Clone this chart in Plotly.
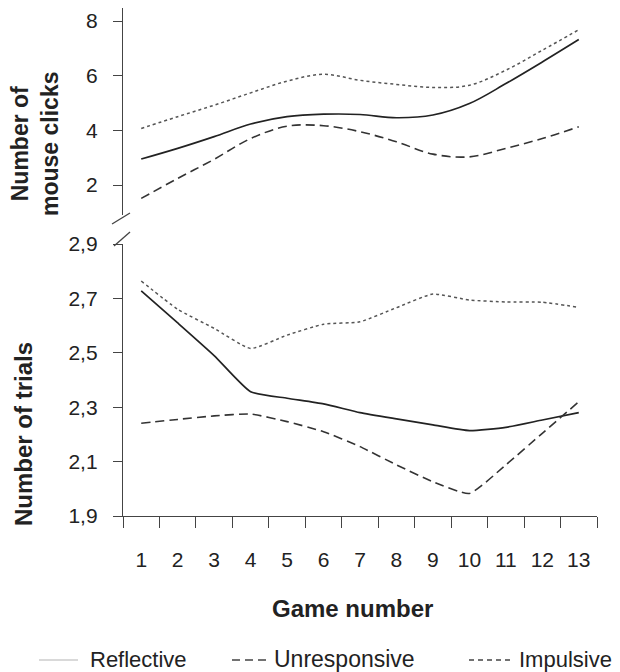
import plotly.graph_objects as go

games = [str(i) for i in range(1, 14)]

clicks_reflective = [2.95, 3.34, 3.77, 4.23, 4.50, 4.59, 4.58, 4.46, 4.56, 4.98, 5.71, 6.50, 7.32]
clicks_unresponsive = [1.51, 2.24, 2.94, 3.70, 4.15, 4.17, 3.95, 3.58, 3.13, 3.03, 3.34, 3.70, 4.13]
clicks_impulsive = [4.07, 4.50, 4.92, 5.37, 5.80, 6.05, 5.83, 5.68, 5.57, 5.65, 6.20, 6.93, 7.68]

trials_reflective = [2.728, 2.610, 2.490, 2.357, 2.333, 2.312, 2.280, 2.257, 2.235, 2.214, 2.226, 2.253, 2.280]
trials_unresponsive = [2.241, 2.255, 2.268, 2.275, 2.247, 2.210, 2.155, 2.088, 2.026, 1.983, 2.088, 2.204, 2.320]
trials_impulsive = [2.764, 2.660, 2.590, 2.516, 2.565, 2.605, 2.614, 2.666, 2.716, 2.694, 2.687, 2.686, 2.667]

clicks_ticks = [2, 4, 6, 8]
trials_ticks = [1.9, 2.1, 2.3, 2.5, 2.7, 2.9]
trials_ticktext = ["1,9", "2,1", "2,3", "2,5", "2,7", "2,9"]

# page body has an 8px margin: work in target-screen pixels, convert to figure pixels
OFF = 8
W, H = 620 - OFF, 672 - OFF
X0, X1 = 123, 597      # plot area left/right (screen px)
Y0, Y1 = 8, 516        # plot area top/bottom (screen px)
L, R = X0 - OFF, W - (X1 - OFF)
T, B = max(Y0 - OFF, 0), H - (Y1 - OFF)
PW, PH = X1 - X0, (Y1 - OFF) - T


def px(x):
    return (x - X0) / PW


def py(y):
    return (Y1 - y) / PH


FONT = "Liberation Sans, Arial, sans-serif"
styles = {
    "Reflective": dict(color="#222222", width=1.7, dash="solid"),
    "Unresponsive": dict(color="#333333", width=1.6, dash="9px,5px"),
    "Impulsive": dict(color="#555555", width=1.5, dash="3px,3px"),
}

fig = go.Figure()
for name, ys in [("Reflective", clicks_reflective), ("Unresponsive", clicks_unresponsive), ("Impulsive", clicks_impulsive)]:
    fig.add_trace(go.Scatter(x=games, y=ys, mode="lines", name=name, line=dict(shape="spline", smoothing=1.0, **styles[name]),
                             xaxis="x", yaxis="y2", showlegend=False))
for name, ys in [("Reflective", trials_reflective), ("Unresponsive", trials_unresponsive), ("Impulsive", trials_impulsive)]:
    fig.add_trace(go.Scatter(x=games, y=ys, mode="lines", name=name, line=dict(shape="spline", smoothing=0.5, **styles[name]),
                             xaxis="x", yaxis="y", showlegend=False))

axis_col = "#444444"
top_px_per_unit = (185 - 21) / 6.0
fig.update_layout(
    width=W, height=H,
    margin=dict(l=L, r=R, t=T, b=B, pad=0, autoexpand=False),
    paper_bgcolor="white", plot_bgcolor="white",
    font=dict(family=FONT, color="#222222"),
    xaxis=dict(type="category", tickson="boundaries", ticks="outside", ticklen=11, tickcolor=axis_col,
               showline=True, linecolor=axis_col, linewidth=1.3, showgrid=False, zeroline=False,
               tickfont=dict(size=21, color="#222222"), ticklabelstandoff=25, anchor="y",
               range=[-0.5, 12.5], automargin=False),
    yaxis=dict(domain=[0, py(244)], range=[1.9, 2.9], tickvals=trials_ticks, ticktext=trials_ticktext,
               ticks="outside", ticklen=9, tickcolor=axis_col, showline=True, linecolor=axis_col, linewidth=1.3,
               showgrid=False, zeroline=False, tickfont=dict(size=21, color="#222222"), ticklabelstandoff=11,
               automargin=False),
    yaxis2=dict(domain=[py(215), 1],
                range=[2 - (215 - 185) / top_px_per_unit, 8 + (21 - (T + OFF)) / top_px_per_unit],
                tickvals=clicks_ticks,
                ticks="outside", ticklen=9, tickcolor=axis_col, showline=True, linecolor=axis_col, linewidth=1.3,
                showgrid=False, zeroline=False, tickfont=dict(size=21, color="#222222"), ticklabelstandoff=11,
                anchor="x", automargin=False),
)

LEG_Y = 659
shapes = [
    dict(type="line", xref="paper", yref="paper", x0=px(112), y0=py(224), x1=px(130), y1=py(213),
         line=dict(color=axis_col, width=1.3)),
    dict(type="line", xref="paper", yref="paper", x0=px(114), y0=py(246), x1=px(130), y1=py(232),
         line=dict(color=axis_col, width=1.3)),
    # legend samples
    dict(type="line", xref="paper", yref="paper", x0=px(39), y0=py(LEG_Y + 1), x1=px(78), y1=py(LEG_Y + 1),
         line=dict(color="#cccccc", width=1.5)),
    dict(type="line", xref="paper", yref="paper", x0=px(232), y0=py(LEG_Y + 1), x1=px(268), y1=py(LEG_Y + 1),
         line=dict(color="#444444", width=1.6, dash="8px,5px")),
    dict(type="line", xref="paper", yref="paper", x0=px(469), y0=py(LEG_Y + 1), x1=px(513), y1=py(LEG_Y + 1),
         line=dict(color="#444444", width=1.6, dash="5px,4px")),
]

ann = [
    dict(text="<b>Number of<br>mouse clicks</b>", x=px(35), y=py(144), textangle=-90, font=dict(size=23)),
    dict(text="<b>Number of trials</b>", x=px(23), y=py(434), textangle=-90, font=dict(size=24)),
    dict(text="<b>Game number</b>", x=px(352), y=py(608), font=dict(size=24)),
    dict(text="Reflective", x=px(88), y=py(LEG_Y), xanchor="left", font=dict(size=22)),
    dict(text="Unresponsive", x=px(272), y=py(LEG_Y), xanchor="left", font=dict(size=23)),
    dict(text="Impulsive", x=px(517), y=py(LEG_Y), xanchor="left", font=dict(size=22)),
]
annotations = []
for a in ann:
    d = dict(xref="paper", yref="paper", showarrow=False, yanchor="middle")
    d.setdefault("xanchor", "center")
    d.update(a)
    annotations.append(d)

fig.update_layout(shapes=shapes, annotations=annotations)
fig.write_html("out.html")
